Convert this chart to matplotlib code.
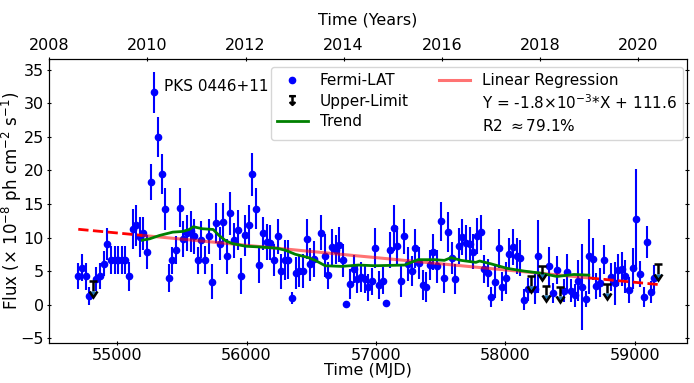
import numpy as np
import matplotlib
matplotlib.use('Agg')
import matplotlib.pyplot as plt
from matplotlib.lines import Line2D

# Fermi-LAT detections (MJD, flux in 1e-8 ph cm^-2 s^-1, 1-sigma error)
mjd = [54700, 54728, 54756, 54784, 54840, 54868, 54896, 54924, 54952, 54980,
       55008, 55036, 55064, 55092, 55120, 55148, 55176, 55204, 55232, 55260,
       55288, 55316, 55344, 55372, 55400, 55428, 55456, 55484, 55512, 55540,
       55568, 55596, 55624, 55652, 55680, 55708, 55736, 55764, 55792, 55820,
       55848, 55876, 55904, 55932, 55960, 55988, 56016, 56044, 56072, 56100,
       56128, 56156, 56184, 56212, 56240, 56268, 56296, 56324, 56352, 56380,
       56408, 56436, 56464, 56492, 56520, 56576, 56604, 56632, 56660, 56688,
       56716, 56744, 56772, 56800, 56828, 56856, 56884, 56912, 56940, 56968,
       56996, 57024, 57052, 57080, 57108, 57136, 57164, 57192, 57220, 57248,
       57276, 57304, 57332, 57360, 57388, 57416, 57444, 57472, 57500, 57528,
       57556, 57584, 57612, 57640, 57668, 57696, 57724, 57752, 57780, 57808,
       57836, 57864, 57892, 57920, 57948, 57976, 58004, 58032, 58060, 58088,
       58116, 58144, 58172, 58228, 58256, 58340, 58368, 58396, 58452, 58480,
       58508, 58536, 58564, 58592, 58620, 58648, 58676, 58704, 58732, 58760,
       58816, 58844, 58872, 58900, 58928, 58956, 58984, 59012, 59040, 59068,
       59096, 59124, 59152]
flux = [4.3, 5.5, 4.2, 1.3, 3.8, 4.3, 6.1, 9.0, 6.6, 6.6,
        6.6, 6.6, 6.6, 4.2, 11.3, 11.8, 10.1, 10.6, 7.8, 18.3,
        31.6, 25.0, 19.5, 14.2, 4.0, 6.6, 8.1, 14.4, 9.8, 10.7,
        10.9, 10.2, 6.6, 9.7, 6.7, 10.2, 3.4, 12.2, 9.1, 12.3,
        7.2, 13.6, 9.6, 11.1, 4.3, 10.3, 11.8, 19.4, 14.3, 5.9,
        10.6, 9.3, 9.2, 6.7, 10.2, 5.0, 6.7, 6.7, 1.0, 4.7,
        5.0, 5.0, 9.8, 6.0, 6.8, 10.7, 7.3, 4.4, 8.6, 8.2,
        8.9, 6.6, 0.1, 3.1, 5.3, 3.8, 4.1, 3.8, 2.6, 3.5,
        8.4, 2.9, 3.6, 0.25, 8.1, 11.4, 8.8, 3.5, 10.2, 6.1,
        5.0, 8.4, 6.2, 2.9, 2.6, 5.9, 7.8, 5.7, 12.4, 4.0,
        10.8, 6.9, 3.8, 8.7, 10.1, 9.2, 9.0, 7.9, 10.2, 10.8,
        5.3, 4.7, 1.2, 3.4, 8.4, 2.7, 4.0, 7.6, 8.6, 7.3,
        7.0, 0.75, 2.3, 2.3, 7.2, 5.7, 1.8, 5.2, 2.1, 4.8,
        2.1, 1.4, 3.6, 2.6, 0.8, 7.2, 6.8, 2.8, 3.3, 6.7,
        4.1, 3.2, 5.2, 5.3, 4.2, 2.2, 5.4, 12.7, 4.6, 1.2,
        9.3, 1.9, 3.9]
flux_err = [1.9, 2.0, 2.0, 1.4, 1.75, 1.9, 1.9, 2.4, 2.1, 2.1,
            2.1, 2.1, 2.1, 2.2, 3.0, 3.1, 3.0, 2.5, 2.5, 2.7,
            3.1, 3.0, 3.0, 3.1, 2.1, 2.0, 2.1, 2.9, 2.7, 2.7,
            3.0, 2.6, 2.0, 2.7, 2.1, 2.6, 2.6, 3.0, 2.5, 2.9,
            2.6, 3.2, 2.6, 3.0, 2.7, 3.0, 3.0, 3.2, 3.0, 2.6,
            2.5, 2.7, 2.6, 2.4, 2.6, 2.6, 3.0, 2.9, 0.9, 2.4,
            2.4, 2.5, 3.0, 2.5, 2.7, 2.6, 3.2, 2.0, 2.7, 2.1,
            2.6, 2.5, 0.5, 2.2, 2.1, 2.0, 2.2, 2.1, 2.0, 2.0,
            3.0, 2.1, 2.0, 0.4, 2.7, 3.4, 2.9, 2.4, 2.6, 2.5,
            2.2, 2.9, 2.4, 2.2, 2.2, 2.2, 2.7, 2.4, 2.9, 2.2,
            3.0, 2.4, 2.2, 2.7, 2.7, 2.6, 2.6, 2.6, 2.7, 2.6,
            2.1, 2.1, 1.5, 2.4, 2.9, 2.1, 2.4, 2.4, 2.7, 2.7,
            2.7, 1.6, 1.7, 2.2, 5.4, 2.9, 1.5, 2.1, 1.7, 2.7,
            1.7, 1.7, 3.0, 6.4, 1.2, 5.6, 3.1, 1.9, 2.1, 2.2,
            2.1, 3.2, 2.4, 2.5, 2.5, 1.9, 3.1, 7.5, 1.9, 1.5,
            2.4, 1.7, 2.0]

# upper limits
ul_mjd = [54812, 58200, 58284, 58312, 58424, 58788, 59180]
ul_flux = [3.6, 4.2, 5.8, 2.8, 2.7, 3.1, 6.1]
ul_len = [1.5, 1.35, 1.25, 1.35, 1.4, 1.4, 1.5]

# smoothed trend
trend_mjd = [55195, 55251, 55327, 55430, 55506, 55558, 55589, 55660, 55742, 55788,
             55840, 55890, 55993, 56096, 56236, 56301, 56377, 56480, 56531, 56608,
             56735, 56864, 56992, 57222, 57273, 57324, 57453, 57529, 57580, 57657,
             57772, 57801, 57885, 58016, 58146, 58269, 58400, 58530, 58645]
trend_flux = [9.6, 9.8, 10.3, 10.8, 10.9, 11.2, 11.6, 11.3, 11.2, 10.3,
              9.5, 9.1, 8.7, 8.6, 8.4, 8.1, 7.5, 7.0, 6.6, 5.8,
              5.7, 5.9, 5.8, 5.9, 6.3, 6.7, 6.7, 6.6, 7.0, 6.6,
              6.3, 6.5, 6.1, 5.4, 5.0, 4.7, 4.2, 4.5, 4.4]

# linear regression Y = a*X + b
slope = -1.835e-3
intercept = 111.6

plt.rcParams['font.family'] = 'DejaVu Sans'
fig = plt.figure(figsize=(6.94, 3.83), dpi=100)
ax = fig.add_axes([0.071, 0.104, 0.919, 0.743])

ax.errorbar(mjd, flux, yerr=flux_err, fmt='none', ecolor='b', elinewidth=1.5, zorder=2)
h_pts, = ax.plot(mjd, flux, 'o', color='b', ms=4.5, zorder=2)
ax.errorbar(ul_mjd, ul_flux, yerr=ul_len, uplims=True, fmt='none', ecolor='k',
            elinewidth=1.8, capsize=3, capthick=1.8, zorder=5)
h_trend, = ax.plot(trend_mjd, trend_flux, color='green', lw=2, zorder=4)

# regression: dashed outside the trend window, solid light red inside
x_all = np.array([mjd[0], trend_mjd[0], trend_mjd[-1], ul_mjd[-1]])
y_all = slope * x_all + intercept
ax.plot(x_all[:2], y_all[:2], '--', color='red', lw=2, zorder=3)
ax.plot(x_all[2:], y_all[2:], '--', color='red', lw=2, zorder=3)
h_reg, = ax.plot(x_all[1:3], y_all[1:3], '-', color='red', alpha=0.55, lw=2.2, zorder=3)

h_ul = Line2D([], [], ls='none', marker='$\u21a7$', color='k', ms=7)
h_blank = Line2D([], [], ls='none')
handles = [h_pts, h_ul, h_trend, h_reg, h_blank, h_blank]
labels = ['Fermi-LAT', 'Upper-Limit', 'Trend', 'Linear Regression',
          r'Y = -1.8$\times$10$^{-3}$*X + 111.6', r'R2 $\approx$79.1%']

ax.text(55360, 32.4, 'PKS 0446+11', fontsize=11, va='center')

ax.set_xlabel('Time (MJD)', fontsize=11.5, labelpad=0)
ax.set_ylabel(r'Flux ($\times$ 10$^{-8}$ ph cm$^{-2}$ s$^{-1}$)', fontsize=12)
ax.yaxis.set_label_coords(-0.039, 0.5)
ax.set_yticks([-5, 0, 5, 10, 15, 20, 25, 30, 35])
ax.tick_params(labelsize=11.5, direction='inout', pad=2)
ax.yaxis.set_ticks_position('both')
ax.legend(handles, labels, ncol=2, loc='upper right', fontsize=11, labelspacing=0.35,
          bbox_to_anchor=(0.994, 0.970), borderaxespad=0)

ax2 = ax.twiny()
ax2.set_xlim(2008, 2021)
ax2.set_xticks([2008, 2010, 2012, 2014, 2016, 2018, 2020])
ax2.tick_params(labelsize=11.5, direction='inout', pad=2)
ax2.set_xlabel('Time (Years)', fontsize=11.5, labelpad=10)

fig.savefig('out.png', dpi=100)
